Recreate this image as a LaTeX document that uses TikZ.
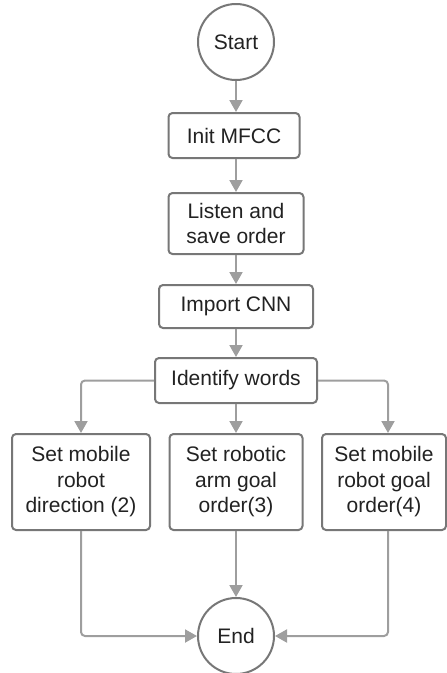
\documentclass[tikz,border=0pt]{standalone}
\usepackage{fontspec}
\setmainfont{Liberation Sans}
\usetikzlibrary{arrows.meta}
\definecolor{boxline}{HTML}{777777}
\definecolor{flowline}{HTML}{9E9E9E}
\definecolor{ink}{HTML}{222222}
\begin{document}
\begin{tikzpicture}[x=1pt,y=-1pt,
  every node/.style={font=\fontsize{21}{25.5}\selectfont, text=ink},
  proc/.style={draw=boxline, line width=2pt, rounded corners=4pt, fill=white,
    align=center, inner sep=0pt},
  term/.style={circle, draw=boxline, line width=2pt, minimum size=76pt,
    inner sep=0pt, fill=white},
  flow/.style={draw=flowline, line width=2pt, rounded corners=4pt,
    -{Triangle[width=13pt,length=12pt]}}]
\useasboundingbox (0,0) rectangle (447,673);

% terminals
\node[term] (start) at (236,42) {Start};
\node[term] (end) at (236,636) {End};

% main chain
\node[proc, minimum width=131pt, minimum height=45pt] (init) at (234,135.5) {Init MFCC};
\node[proc, minimum width=135pt, minimum height=61pt] (listen) at (236,223.5) {Listen and\\save order};
\node[proc, minimum width=154pt, minimum height=43pt] (import) at (236,306.5) {Import CNN};
\node[proc, minimum width=162pt, minimum height=45pt] (ident) at (236,380.5) {Identify words};

% branches
\node[proc, minimum width=138pt, minimum height=96pt] (left) at (81,482) {Set mobile\\robot\\direction (2)};
\node[proc, minimum width=133pt, minimum height=96pt] (mid) at (236,482) {Set robotic\\arm goal\\order(3)};
\node[proc, minimum width=124pt, minimum height=96pt] (right) at (384,482) {Set mobile\\robot goal\\order(4)};

\coordinate (rtop) at ([xshift=4pt]right.north);
\coordinate (rbot) at ([xshift=4pt]right.south);

% connectors
\draw[flow] (start.south) -- (init.north -| start.south);
\draw[flow] (init.south -| listen.north) -- (listen.north);
\draw[flow] (listen.south) -- (import.north);
\draw[flow] (import.south) -- (ident.north);
\draw[flow] (ident.west) -| (left.north);
\draw[flow] (ident.south) -- (mid.north);
\draw[flow] (ident.east) -| (rtop);
\draw[flow] (left.south) |- (end.west);
\draw[flow] (mid.south) -- (end.north);
\draw[flow] (rbot) |- (end.east);
\end{tikzpicture}
\end{document}
